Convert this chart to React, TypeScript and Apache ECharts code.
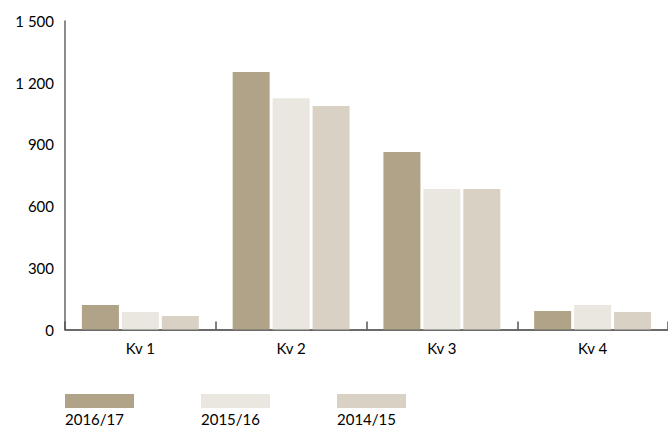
import React, { useEffect, useRef } from "react";
import * as echarts from "echarts";

const categories = ["Kv 1", "Kv 2", "Kv 3", "Kv 4"];
const seriesNames = ["2016/17", "2015/16", "2014/15"];
const values2016 = [119, 1252, 863, 90];
const values2015 = [85, 1125, 683, 119];
const values2014 = [66, 1087, 683, 85];
const colors = ["#b0a387", "#eae7e1", "#d9d1c4"];

const FONT = "Lato, 'Open Sans', sans-serif";

export default function App() {
  const ref = useRef<HTMLDivElement>(null);
  useEffect(() => {
    if (!ref.current) return;
    const chart = echarts.init(ref.current, undefined, { renderer: "svg" });
    const data = [values2016, values2015, values2014];
    const legendGraphics: any[] = [];
    seriesNames.forEach((name, i) => {
      legendGraphics.push({
        type: "rect",
        left: 65 + 136 * i,
        top: 394,
        shape: { width: 69, height: 14 },
        style: { fill: colors[i] },
      });
      legendGraphics.push({
        type: "text",
        left: 65 + 136 * i,
        top: 411,
        style: { text: name, fill: "#000", font: `15px ${FONT}` },
      });
    });
    chart.setOption({
      animation: false,
      textStyle: { fontFamily: FONT },
      grid: { left: 65, right: 0, top: 21, bottom: 99.5, containLabel: false },
      xAxis: {
        type: "category",
        data: categories,
        axisLine: { show: true, lineStyle: { color: "#3a3a3a", width: 1.5 } },
        axisTick: { show: true, inside: true, length: 8, lineStyle: { color: "#555", width: 1.5 } },
        axisLabel: { color: "#000", fontSize: 15, margin: 11, fontFamily: FONT },
      },
      yAxis: {
        type: "value",
        min: 0,
        max: 1500,
        interval: 300,
        axisLine: { show: true, lineStyle: { color: "#666", width: 1.5 } },
        axisTick: { show: false },
        splitLine: { show: false },
        axisLabel: {
          color: "#000",
          fontSize: 15,
          margin: 11,
          fontFamily: FONT,
          formatter: (v: number) => String(v).replace(/\B(?=(\d{3})+(?!\d))/g, " "),
        },
      },
      series: seriesNames.map((name, i) => ({
        name,
        type: "bar",
        data: data[i],
        barWidth: 37,
        barGap: "8%",
        itemStyle: { color: colors[i] },
      })),
      graphic: legendGraphics,
    });
    return () => chart.dispose();
  }, []);
  return <div ref={ref} style={{ width: 668, height: 429, position: "absolute", left: 0, top: 0 }} />;
}
